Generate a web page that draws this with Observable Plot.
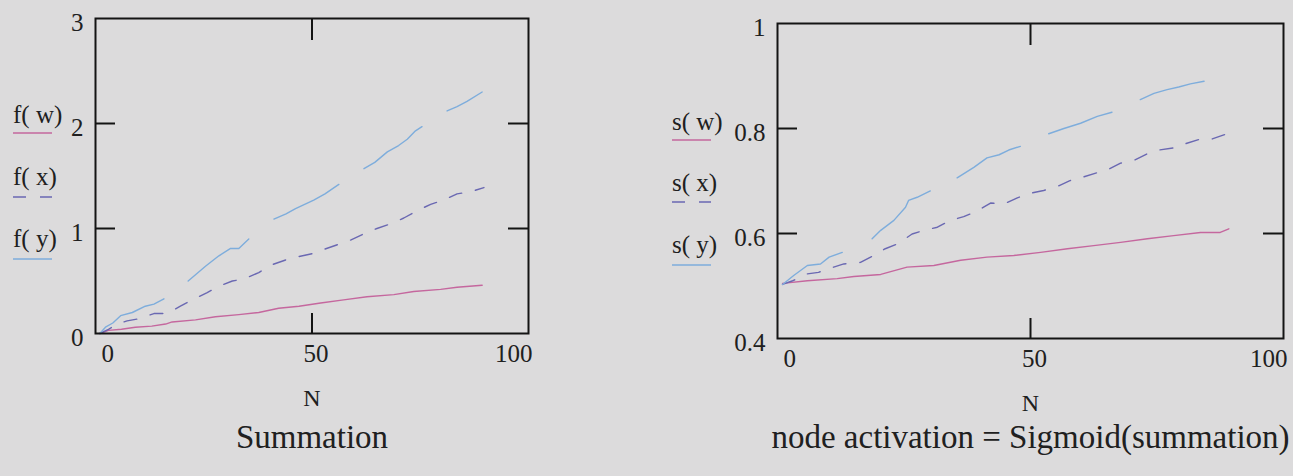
<!DOCTYPE html>
<html><head><meta charset="utf-8">
<script src="https://cdn.jsdelivr.net/npm/d3@7"></script>
<script src="https://cdn.jsdelivr.net/npm/@observablehq/plot@0.6"></script>
<style>
html,body{margin:0;padding:0;background:#dcdbdc;}
#root{position:relative;width:1293px;height:476px;overflow:hidden;background:#dcdbdc;}
#root svg{position:absolute;top:0;}
</style></head><body><div id="root"></div>
<script>
// ---- labels / ticks ----
const xTicks = [0, 50, 100];
const leftYTicks = [0, 1, 2, 3];
const rightYTicks = [0.4, 0.6, 0.8, 1];
const xLabel = "N";
const leftTitle = "Summation";
const rightTitle = "node activation = Sigmoid(summation)";
const leftNames = ["f( w)", "f( x)", "f( y)"];
const rightNames = ["s( w)", "s( x)", "s( y)"];

// ---- left panel: summation ----
const fwN = [1, 3, 6, 9.2, 13, 16.2, 17.7, 23.1, 27.7, 33.1, 37.7, 42.3, 47, 52, 57.3, 62.7, 68.9, 73.5, 79.7, 83.5, 89.3];
const fwV = [0, 0.03, 0.04, 0.06, 0.07, 0.09, 0.11, 0.13, 0.16, 0.18, 0.20, 0.24, 0.26, 0.29, 0.32, 0.35, 0.37, 0.40, 0.42, 0.44, 0.46];

const fxN = [1, 3, 5, 7.3, 10, 13.5, 16.5, 19.6, 22.3, 25.8, 28.5, 31.6, 34.3, 37.7, 40.4, 43.9, 46.6, 50, 52.7, 56.2, 58.9, 62, 65, 68.5, 71.2, 74.3, 77.4, 80.4, 83.5, 86.6, 89.7];
const fxV = [0, 0.04, 0.09, 0.12, 0.14, 0.19, 0.19, 0.26, 0.32, 0.39, 0.45, 0.50, 0.52, 0.58, 0.65, 0.70, 0.73, 0.76, 0.80, 0.85, 0.89, 0.95, 1.00, 1.05, 1.10, 1.17, 1.23, 1.27, 1.33, 1.35, 1.39];

const fyN = [1, 2.3, 4, 5.8, 8.5, 11.5, 13.5, 15.8, 18.6, 21.4, 25.4, 28.5, 31.2, 33.1, 35.4, 38.3, 41.2, 44, 46.2, 50.4, 53, 56.2, 59.1, 62, 64.5, 67.4, 70, 72, 73.9, 75.4, 78.3, 81.2, 83.5, 85.8, 89.3];
const fyV = [0, 0.06, 0.10, 0.17, 0.20, 0.26, 0.28, 0.33, null, 0.50, 0.64, 0.74, 0.81, 0.81, 0.90, null, 1.09, 1.14, 1.19, 1.27, 1.33, 1.42, null, 1.57, 1.63, 1.73, 1.79, 1.85, 1.93, 1.97, null, 2.12, 2.16, 2.21, 2.30];

// ---- right panel: sigmoid ----
const swN = [1, 5.9, 11.8, 15.1, 20.4, 25.6, 30.9, 36.2, 41.4, 46.7, 52, 57.3, 62.5, 67.8, 73.1, 78.3, 83.6, 87.5, 89.2];
const swV = [0.505, 0.51, 0.514, 0.518, 0.522, 0.536, 0.539, 0.549, 0.555, 0.558, 0.564, 0.571, 0.577, 0.583, 0.59, 0.596, 0.602, 0.602, 0.609];

const sxN = [1, 3, 5.9, 8.1, 11.1, 13.1, 16.4, 18.4, 21.3, 23.7, 26.6, 28.9, 31.6, 34.2, 36.8, 39.5, 42.1, 44.7, 47.4, 49.7, 52.6, 54.9, 57.9, 60.2, 62.9, 65.2, 67.8, 70.4, 73.1, 75.4, 78.3, 80.6, 83.6, 85.6, 88.9];
const sxV = [0.503, 0.51, 0.523, 0.526, 0.536, 0.542, 0.545, 0.555, 0.571, 0.58, 0.599, 0.606, 0.612, 0.625, 0.632, 0.643, 0.658, 0.656, 0.668, 0.676, 0.682, 0.688, 0.701, 0.707, 0.715, 0.721, 0.734, 0.739, 0.752, 0.759, 0.763, 0.771, 0.78, 0.779, 0.79];

const syN = [1, 3.2, 5.9, 8.5, 10.2, 12.8, 15.7, 18.7, 20.4, 23, 25.3, 25.9, 27.6, 30.2, 32.8, 35.5, 38.8, 41.4, 43.8, 45.7, 48, 50.8, 53.6, 56.6, 59.9, 63.2, 66.1, 68.9, 71.7, 74.4, 77, 79.3, 81.6, 84.3];
const syV = [0.503, 0.52, 0.539, 0.542, 0.555, 0.564, null, 0.59, 0.606, 0.625, 0.65, 0.663, 0.669, 0.681, null, 0.706, 0.726, 0.744, 0.75, 0.759, 0.766, null, 0.79, 0.80, 0.81, 0.823, 0.831, null, 0.855, 0.867, 0.874, 0.879, 0.885, 0.89];

const colW = "#c5679e", colX = "#6a68b2", colY = "#7eaddc";
const dashX = "13,14";
const ink = "#202020";
const FONT = "'Liberation Serif', 'Times New Roman', serif";

const rows = (N, V) => N.map((n, i) => ({N: n, v: V[i]}));

function panel(o) {
  const plotW = o.width - o.mL - o.mR, plotH = o.height - o.mT - o.mB;
  const tickStyle = {stroke: "#141414", strokeWidth: 2};
  const mid = a => a.slice(1, -1);
  const chart = Plot.plot({
    width: o.width, height: o.height,
    marginLeft: o.mL, marginRight: o.mR, marginTop: o.mT, marginBottom: o.mB,
    style: {background: "transparent", fontFamily: FONT, color: ink, overflow: "visible"},
    x: {domain: [0, 100], axis: null},
    y: {domain: [o.yTicks[0], o.yTicks[o.yTicks.length - 1]], axis: null},
    marks: [
      ...o.series.map(s => Plot.line(rows(s.N, s.V), {x: "N", y: "v", stroke: s.color, strokeWidth: 1.4, strokeDasharray: s.dash || null})),
      Plot.frame({stroke: "#141414", strokeWidth: 2}),
      Plot.tickX(mid(xTicks), {x: d => d, ...tickStyle, insetBottom: plotH - 22}),
      Plot.tickX(mid(xTicks), {x: d => d, ...tickStyle, insetTop: plotH - 20}),
      Plot.tickY(mid(o.yTicks), {y: d => d, ...tickStyle, insetRight: plotW - 20}),
      Plot.tickY(mid(o.yTicks), {y: d => d, ...tickStyle, insetLeft: plotW - 20}),
      Plot.text(o.yTicks, {y: d => d, text: d => String(d), frameAnchor: "left", textAnchor: "end", dx: -12, dy: 4, fontSize: 25}),
      Plot.text([xTicks[0]], {x: d => d, text: d => String(d), frameAnchor: "bottom", textAnchor: "start", dx: 6, dy: 28, fontSize: 25}),
      Plot.text(mid(xTicks), {x: d => d, text: d => String(d), frameAnchor: "bottom", dx: 4, dy: 28, fontSize: 25}),
      Plot.text([xTicks[xTicks.length - 1]], {x: d => d, text: d => String(d), frameAnchor: "bottom", textAnchor: "end", dx: 4, dy: 28, fontSize: 25}),
      Plot.text([xLabel], {text: d => d, frameAnchor: "bottom", dy: 72, fontSize: 24}),
      Plot.text([o.title], {text: d => d, frameAnchor: "bottom", dy: o.titleDy, fontSize: 33})
    ]
  });
  chart.style.left = o.left + "px";
  const svg = d3.select(chart);
  o.series.forEach((s, i) => {
    svg.append("text").attr("x", o.legX).attr("y", o.legBase[i])
      .attr("text-anchor", "start")
      .attr("font-size", 25).attr("font-family", FONT).attr("fill", ink).text(s.name);
    svg.append("line").attr("x1", o.legX).attr("x2", o.legX + 39)
      .attr("y1", o.legLine[i]).attr("y2", o.legLine[i])
      .attr("stroke", s.color).attr("stroke-width", 1.4)
      .attr("stroke-dasharray", s.dash || null);
  });
  document.getElementById("root").appendChild(chart);
}

panel({
  left: 0, width: 560, height: 476, mL: 95, mR: 32, mT: 18, mB: 143,
  yTicks: leftYTicks, title: leftTitle, titleDy: 114,
  legX: 13, legBase: [123, 185, 247], legLine: [133, 197, 259],
  series: [
    {name: leftNames[0], N: fwN, V: fwV, color: colW},
    {name: leftNames[1], N: fxN, V: fxV, color: colX, dash: dashX},
    {name: leftNames[2], N: fyN, V: fyV, color: colY}
  ]
});

panel({
  left: 600, width: 693, height: 476, mL: 177, mR: 10, mT: 23, mB: 138,
  yTicks: rightYTicks, title: rightTitle, titleDy: 109,
  legX: 72, legBase: [130, 191, 253], legLine: [140, 202, 265],
  series: [
    {name: rightNames[0], N: swN, V: swV, color: colW},
    {name: rightNames[1], N: sxN, V: sxV, color: colX, dash: dashX},
    {name: rightNames[2], N: syN, V: syV, color: colY}
  ]
});
</script></body></html>
